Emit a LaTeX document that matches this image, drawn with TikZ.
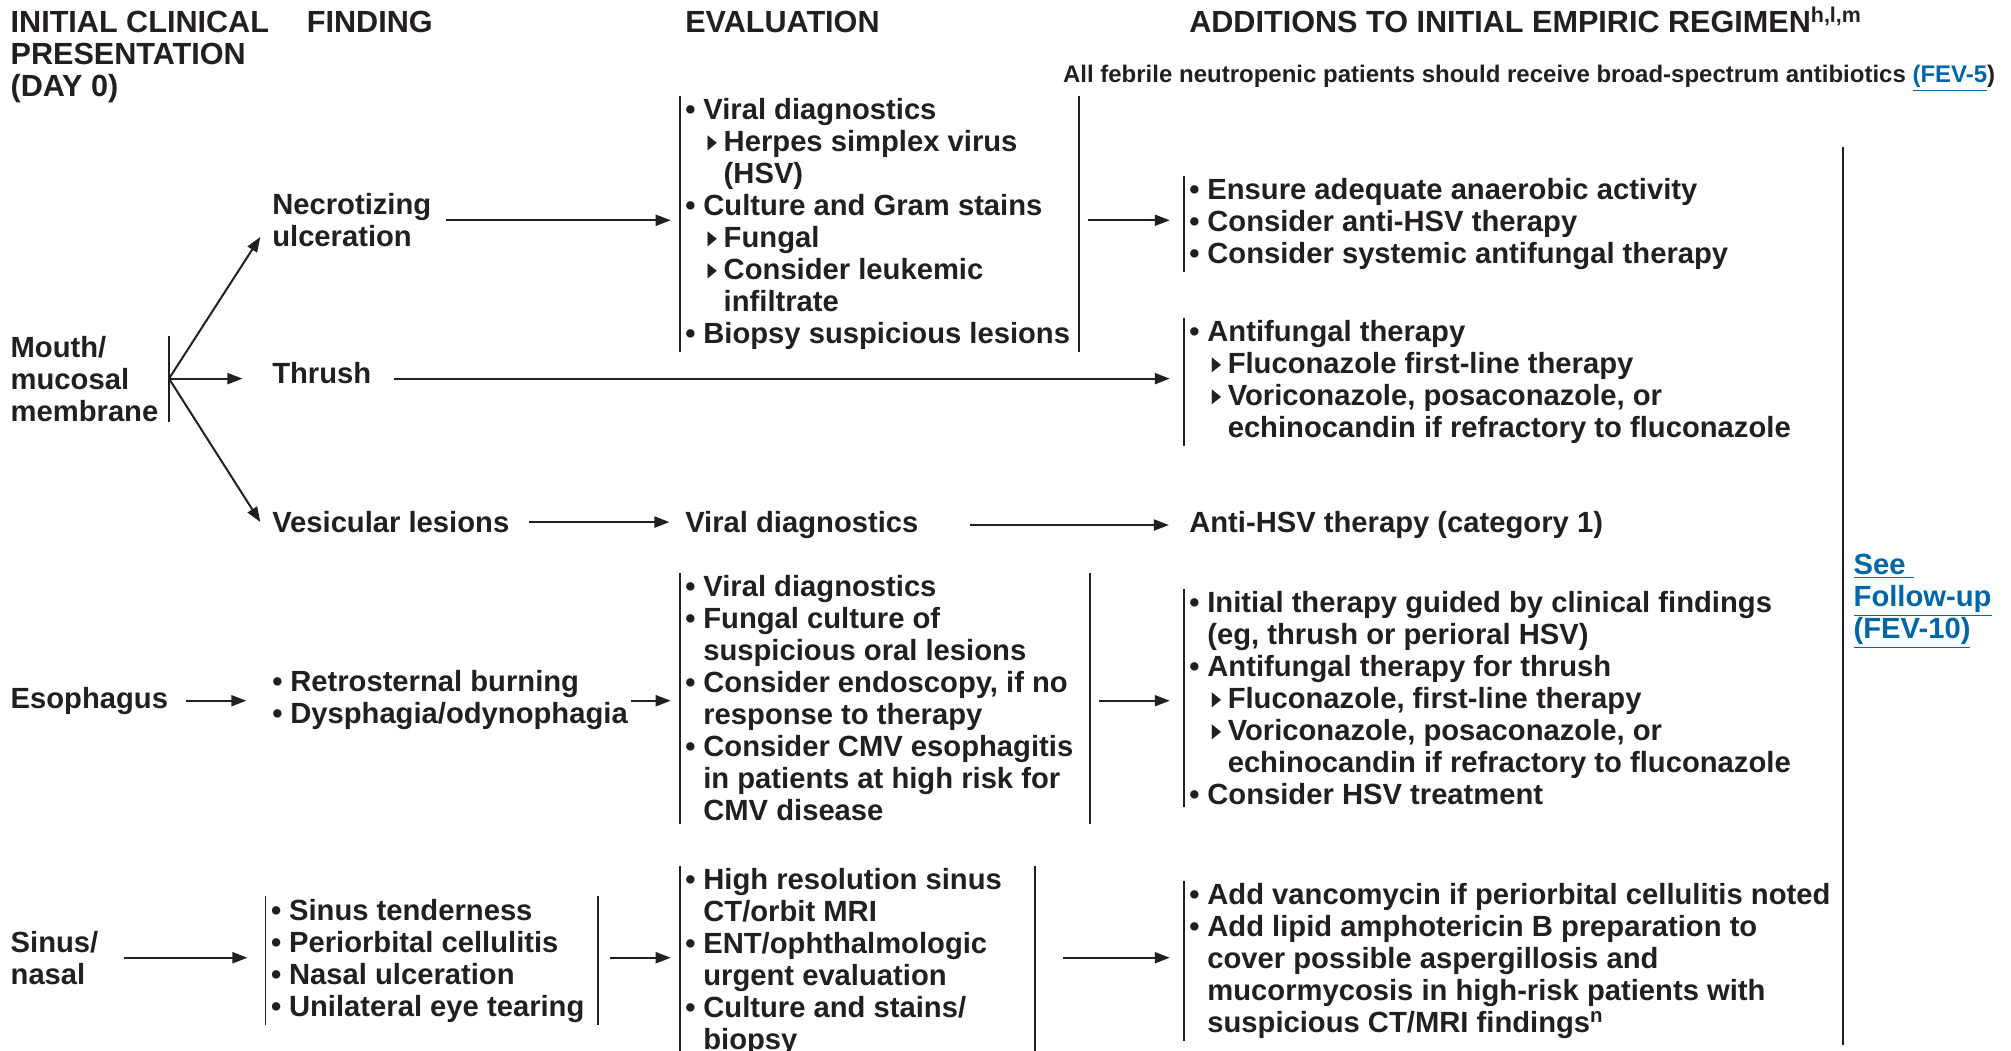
\documentclass[tikz,border=0pt]{standalone}
\usepackage{fontspec}
\setmainfont{Liberation Sans}
\newfontfamily\symfont{DejaVu Sans}
\usepackage{tikz}
\usetikzlibrary{arrows.meta,calc}
\definecolor{ink}{HTML}{231F20}
\definecolor{link}{HTML}{0066A8}
\newcommand{\bodyfont}{\bfseries\fontsize{14.6pt}{16pt}\selectfont}
\newcommand{\headfont}{\bfseries\fontsize{15.3pt}{16pt}\selectfont}
\newcommand{\notefont}{\bfseries\fontsize{12pt}{14pt}\selectfont}
\newcommand{\bl}{\makebox[9pt][l]{•}}
\newcommand{\sbl}{\hspace*{11.2pt}\makebox[8pt][l]{\raisebox{1.6pt}{\scalebox{0.42}[0.68]{\symfont ▶}}}}
\newcommand{\ind}{\hspace*{9pt}}
\newcommand{\sind}{\hspace*{19.2pt}}
\newcommand{\link}[1]{{\color{link}\underline{#1}}}

\begin{document}
\begin{tikzpicture}[x=0.6413pt, y=0.6413pt,
  lbl/.style={inner sep=0pt, align=left, font=\bodyfont, text=ink},
  box/.style={lbl, inner xsep=2.6pt, inner ysep=1pt},
  hd/.style={lbl, font=\headfont},
  bar/.style={draw=ink, line width=0.9pt},
  arr/.style={draw=ink, line width=1pt, -{Triangle[length=7.5pt,width=5.5pt]}}]
\useasboundingbox (0,0) rectangle (1568,-819);
% column heads
\node[hd, anchor=north west] (hclin) at (8,-8.6) {INITIAL CLINICAL\\PRESENTATION\\(DAY 0)};
\node[hd, anchor=base west] (hfind) at (239,-25.4) {FINDING};
\node[hd, anchor=base west] (heval) at (534,-25.4) {EVALUATION};
\node[hd, anchor=base west] (hadd) at (927,-25.4) {ADDITIONS TO INITIAL EMPIRIC REGIMEN\textsuperscript{h,l,m}};
\node[lbl, font=\notefont, anchor=base east] (note) at (1556,-64.7) {All febrile neutropenic patients should receive broad-spectrum antibiotics \link{(FEV-5})};
% mouth / mucosal membrane
\node[lbl, anchor=north west] (mouth) at (8,-261.6) {Mouth/\\mucosal\\membrane};
\node[lbl, anchor=north west] (nec) at (212,-150.6) {Necrotizing\\ulceration};
\node[lbl, anchor=base west] (thrush) at (212,-299.2) {Thrush};
\node[lbl, anchor=base west] (ves) at (212,-415.2) {Vesicular lesions};
\node[box, anchor=north west] (ev1) at (530,-75) {\bl Viral diagnostics\\
  \sbl Herpes simplex virus\\
  \sind (HSV)\\
  \bl Culture and Gram stains\\
  \sbl Fungal\\
  \sbl Consider leukemic\\
  \sind infiltrate\\
  \bl Biopsy suspicious lesions};
\node[lbl, anchor=base west] (vir) at (534,-415.2) {Viral diagnostics};
\node[box, anchor=north west] (add1) at (923,-137) {\bl Ensure adequate anaerobic activity\\
  \bl Consider anti-HSV therapy\\
  \bl Consider systemic antifungal therapy};
\node[box, anchor=north west] (add2) at (923,-248) {\bl Antifungal therapy\\
  \sbl Fluconazole first-line therapy\\
  \sbl Voriconazole, posaconazole, or\\
  \sind echinocandin if refractory to fluconazole};
\node[lbl, anchor=base west] (ahsv) at (927,-415.2) {Anti-HSV therapy (category 1)};
% esophagus
\node[lbl, anchor=base west] (eso) at (8,-552.2) {Esophagus};
\node[lbl, anchor=north west] (fin4) at (212,-522.6) {\bl Retrosternal burning\\
  \bl Dysphagia/odynophagia};
\node[box, anchor=north west] (ev4) at (530,-447) {\bl Viral diagnostics\\
  \bl Fungal culture of\\
  \ind suspicious oral lesions\\
  \bl Consider endoscopy, if no\\
  \ind response to therapy\\
  \bl Consider CMV esophagitis\\
  \ind in patients at high risk for\\
  \ind CMV disease};
\node[box, anchor=north west] (add4) at (923,-459) {\bl Initial therapy guided by clinical findings\\
  \ind (eg, thrush or perioral HSV)\\
  \bl Antifungal therapy for thrush\\
  \sbl Fluconazole, first-line therapy\\
  \sbl Voriconazole, posaconazole, or\\
  \sind echinocandin if refractory to fluconazole\\
  \bl Consider HSV treatment};
% sinus / nasal
\node[lbl, anchor=north west] (sinus) at (8,-725.6) {Sinus/\\nasal};
\node[box, anchor=north west] (fin5) at (207,-699) {\bl Sinus tenderness\\
  \bl Periorbital cellulitis\\
  \bl Nasal ulceration\\
  \bl Unilateral eye tearing};
\node[box, anchor=north west] (ev5) at (530,-675) {\bl High resolution sinus\\
  \ind CT/orbit MRI\\
  \bl ENT/ophthalmologic\\
  \ind urgent evaluation\\
  \bl Culture and stains/\\
  \ind biopsy};
\node[box, anchor=north west] (add5) at (923,-687) {\bl Add vancomycin if periorbital cellulitis noted\\
  \bl Add lipid amphotericin B preparation to\\
  \ind cover possible aspergillosis and\\
  \ind mucormycosis in high-risk patients with\\
  \ind suspicious CT/MRI findings\textsuperscript{n}};
% follow-up
\node[lbl, anchor=north west] (fu) at (1445,-431.6) {\link{See\ }\\\link{Follow-up}\\\link{(FEV-10)}};
\coordinate (fuTop) at (1437,-115);
\coordinate (fuBot) at (1437,-815);
\draw[bar] (fuTop) -- (fuBot);
% bars
\foreach \b in {ev1,add1,add2,ev4,add4,fin5,ev5,add5}
  \draw[bar] (\b.north west) -- (\b.south west);
\foreach \b/\w in {ev1/311,ev4/320,fin5/259,ev5/277} {
  \coordinate (\b R) at ($(\b.west)+(\w,0)$);
  \draw[bar] ($(\b.north west)+(\w,0)$) -- ($(\b.south west)+(\w,0)$);
}
\draw[bar] ($(mouth.north east)+(8,0)$) -- ($(mouth.south east)+(8,0)$);
\coordinate (fork) at ($(mouth.east)+(8,0)$);
% arrows
\draw[arr] (fork) -- ($(nec.west)+(-9,-13)$);
\draw[arr] (fork) -- ($(ves.west)+(-9,0)$);
\draw[arr, shorten >=14.7pt] (fork) -- (fork -| thrush.west);
\draw[arr, shorten <=11pt, shorten >=7pt] (thrush.east |- fork) -- (fork -| add2.west);
\draw[arr, shorten <=7pt, shorten >=4.5pt] (nec.east) -- (nec.east -| ev1.west);
\draw[arr, shorten <=4.5pt, shorten >=7pt] (ev1R |- nec.east) -- (nec.east -| add1.west);
\draw[arr, shorten <=9.6pt, shorten >=7.7pt] (ves.east) -- (ves.east -| vir.west);
\draw[arr, shorten <=25.7pt, shorten >=10pt] (vir.east) -- (vir.east -| ahsv.west);
\draw[arr, shorten <=9pt, shorten >=12.8pt] (eso.east) -- (eso.east -| fin4.west);
\draw[arr, shorten <=1.5pt, shorten >=4.5pt] (fin4.east |- eso.east) -- (eso.east -| ev4.west);
\draw[arr, shorten <=4.5pt, shorten >=7pt] (ev4R |- eso.east) -- (eso.east -| add4.west);
\draw[arr, shorten <=12.8pt, shorten >=9pt] (sinus.east) -- (sinus.east -| fin5.west);
\draw[arr, shorten <=6.4pt, shorten >=4.5pt] (fin5R |- sinus.east) -- (sinus.east -| ev5.west);
\draw[arr, shorten <=14pt, shorten >=7pt] (ev5R |- sinus.east) -- (sinus.east -| add5.west);
\end{tikzpicture}
\end{document}
